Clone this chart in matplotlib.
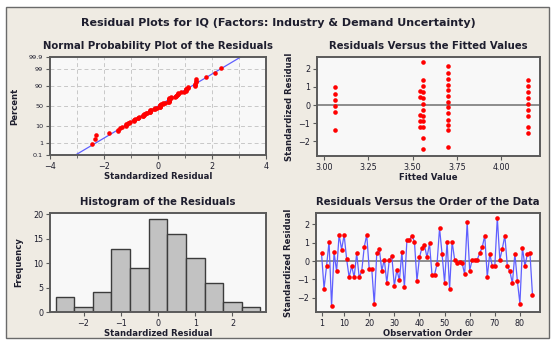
import matplotlib
matplotlib.use("Agg")
import matplotlib.pyplot as plt
from matplotlib.patches import Rectangle
from statistics import NormalDist
import numpy as np

# standardized residuals in observation order
resid = [0.42, -1.49, -0.28, 1.05, -2.45, 0.47, -0.56, 1.42, 0.62, 1.42,
         0.10, -0.88, -0.27, -0.88, 0.42, -0.88, -0.56, 0.75, 1.42, -0.45,
         -0.42, -2.33, 0.42, 0.66, -0.52, 0.08, -1.18, 0.08, 0.25, -1.35,
         -0.47, -1.05, 0.47, -1.42, 1.12, 1.12, 1.38, 1.05, -1.08, 0.20,
         0.72, 0.85, 0.20, 0.95, -0.75, -0.75, -0.15, 1.78, 0.38, -1.18,
         1.05, -1.50, 1.05, 0.08, -0.12, -0.05, -0.12, -0.72, 2.10, -0.52,
         0.08, 0.08, 0.08, 0.42, 0.75, 1.38, -0.86, 0.40, -0.28, -0.28,
         2.35, 0.07, 0.67, 1.38, -0.28, -0.56, -1.20, 0.40, -1.10, -2.30,
         0.73, -0.28, 0.40, 0.42, -1.82]

# residuals vs fitted (distinct points per fitted level)
fit_a_x, fit_a_y = 3.06, [1.00, 0.63, 0.30, -0.05, -0.39, -1.35]
fit_b_x, fit_b_y = 3.54, [0.78, 0.44, -0.54, -0.87, -1.20]
fit_c_x, fit_c_y = 3.56, [2.35, 1.37, 1.05, 0.74, 0.41, 0.09, -0.26, -0.59,
                          -0.89, -1.20, -1.81, -2.44]
fit_d_x, fit_d_y = 3.70, [2.13, 1.78, 1.46, 1.13, 0.81, 0.50, 0.18, -0.13,
                          -0.44, -0.80, -1.10, -1.37, -2.28]
fit_e_x, fit_e_y = 4.15, [1.39, 1.05, 0.74, 0.41, 0.09, -0.26, -0.59, -1.20,
                          -1.52]

# histogram
bin_centers = [-2.5, -2.0, -1.5, -1.0, -0.5, 0.0, 0.5, 1.0, 1.5, 2.0, 2.5]
bin_counts = [3, 1, 4, 13, 9, 19, 16, 11, 6, 2, 1]

prob_ticks = [0.1, 1, 10, 50, 90, 99, 99.9]

W, H = 552, 340
BG = "#EFEBE3"
FACE = "#F8F8F8"
SPINE = "#5A5A5A"
TXT = "#1E1E2E"
RED = "#FF0000"
BLUE = "#5F5FFF"

fig = plt.figure(figsize=(W / 100, H / 100), dpi=100)
fig.patch.set_facecolor("white")
frame = Rectangle((6 / W, 2 / H), 543 / W, 331 / H, transform=fig.transFigure,
                  facecolor=BG, edgecolor="#6A6A6A", lw=1.0, zorder=-5)
fig.add_artist(frame)


def box(l, t, r, b):
    return [l / W, 1 - b / H, (r - l) / W, (b - t) / H]


def style(ax):
    ax.set_facecolor(FACE)
    for s in ax.spines.values():
        s.set_color(SPINE)
        s.set_linewidth(1.4)
    ax.tick_params(labelsize=5.8, colors=SPINE, labelcolor=TXT, length=3, width=0.8, pad=2)


def titles(ax, title, xl, yl, ylpad=3):
    ax.set_title(title, fontsize=7.3, fontweight="bold", color=TXT, pad=6)
    ax.set_xlabel(xl, fontsize=6.1, fontweight="bold", color=TXT, labelpad=1)
    ax.set_ylabel(yl, fontsize=6.1, fontweight="bold", color=TXT, labelpad=ylpad)


def dots(ax, x, y):
    ax.plot(x, y, "o", color=RED, ms=3.3, mew=0, zorder=3)


fig.text(278 / W, 1 - 23 / H, "Residual Plots for IQ (Factors: Industry & Demand Uncertainty)",
         ha="center", va="center", fontsize=8.0, fontweight="bold", color=TXT)

nd = NormalDist()

# normal probability plot
ax1 = fig.add_axes(box(50, 57, 266, 155))
style(ax1)
r = np.sort(np.array(resid))
n = len(r)
z = np.array([nd.inv_cdf((i + 1 - 0.3) / (n + 0.4)) for i in range(n)])
mu, sd = r.mean(), r.std(ddof=1)
zlo, zhi = nd.inv_cdf(0.001), nd.inv_cdf(0.999)
ax1.plot([mu + zlo * sd, mu + zhi * sd], [zlo, zhi], color=BLUE, lw=0.9, zorder=2)
dots(ax1, r, z)
ax1.set_xlim(-4, 4)
ax1.set_ylim(zlo, zhi)
ax1.set_xticks([-4, -2, 0, 2, 4])
ax1.set_xticks([-3, -1, 1, 3], minor=True)
ax1.set_yticks([nd.inv_cdf(p / 100) for p in prob_ticks])
ax1.set_yticklabels([f"{p:g}" for p in prob_ticks], fontsize=4.6)
ax1.tick_params(which="minor", length=2, color=SPINE)
for x in range(-3, 4):
    ax1.axvline(x, color="#C8C8C8", lw=0.7, ls=(0, (4, 3)), zorder=1)
for p in prob_ticks[1:-1]:
    ax1.axhline(nd.inv_cdf(p / 100), color="#C8C8C8", lw=0.7, ls=(0, (4, 3)), zorder=1)
titles(ax1, "Normal Probability Plot of the Residuals", "Standardized Residual", "Percent", 7)

# residuals versus fitted values
ax2 = fig.add_axes(box(317, 57, 540, 156))
style(ax2)
ax2.axhline(0, color="#7A7A7A", lw=1.2, zorder=1)
for fx, fy in [(fit_a_x, fit_a_y), (fit_b_x, fit_b_y), (fit_c_x, fit_c_y),
               (fit_d_x, fit_d_y), (fit_e_x, fit_e_y)]:
    dots(ax2, [fx] * len(fy), fy)
ax2.set_xlim(2.96, 4.22)
ax2.set_ylim(-2.8, 2.65)
ax2.set_xticks([3.0, 3.25, 3.5, 3.75, 4.0])
ax2.set_xticklabels(["3.00", "3.25", "3.50", "3.75", "4.00"])
ax2.set_yticks([-2, -1, 0, 1, 2])
titles(ax2, "Residuals Versus the Fitted Values", "Fitted Value", "Standardized Residual")

# histogram
ax3 = fig.add_axes(box(50, 213, 266, 312))
style(ax3)
ax3.bar(bin_centers, bin_counts, width=0.5, color="#C2C2C2", edgecolor="#3C3C3C", lw=1.0, zorder=2)
ax3.set_xlim(-2.9, 2.9)
ax3.set_ylim(0, 20.3)
ax3.set_xticks([-2, -1, 0, 1, 2])
ax3.set_yticks([0, 5, 10, 15, 20])
titles(ax3, "Histogram of the Residuals", "Standardized Residual", "Frequency", 7)

# residuals versus order
ax4 = fig.add_axes(box(316, 213, 540, 312))
style(ax4)
order = np.arange(1, len(resid) + 1)
ax4.axhline(0, color="#7A7A7A", lw=1.2, zorder=1)
ax4.plot(order, resid, color=BLUE, lw=0.9, zorder=2)
dots(ax4, order, resid)
ax4.set_xlim(-1.2, 88)
ax4.set_ylim(-2.76, 2.6)
ax4.set_xticks([1, 10, 20, 30, 40, 50, 60, 70, 80])
ax4.set_yticks([-2, -1, 0, 1, 2])
titles(ax4, "Residuals Versus the Order of the Data", "Observation Order", "Standardized Residual")

fig.savefig("out.png", dpi=100, facecolor=fig.get_facecolor())
